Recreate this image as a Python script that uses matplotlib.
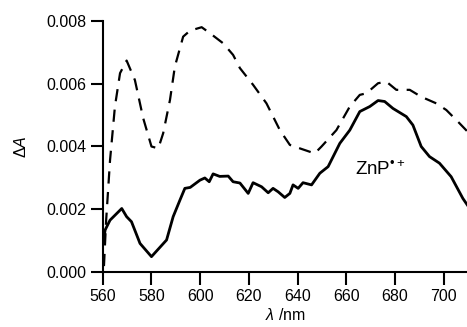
import matplotlib
matplotlib.use('Agg')
import matplotlib.pyplot as plt

plt.rcParams['font.family'] = ['Liberation Sans', 'DejaVu Sans']
plt.rcParams['mathtext.fontset'] = 'custom'
plt.rcParams['mathtext.rm'] = 'Liberation Sans'
plt.rcParams['mathtext.it'] = 'Liberation Sans:italic'

# solid trace (ZnP radical cation)
solid_x = [560, 561, 563, 567.8, 569.8, 571.8, 575.3, 580, 586.2, 588.9, 591.7,
           593.7, 595.9, 599.9, 601.9, 603.7, 605.3, 608, 611.5, 613.5, 616.3,
           619.7, 621.7, 625.2, 627.9, 629.9, 632, 634.7, 636.8, 638.1, 640.2,
           642.2, 645.7, 649.1, 652.5, 657.3, 661.4, 665.5, 669.6, 673, 675.7,
           679.1, 684.6, 687.3, 690.7, 694.1, 698.2, 703, 707.8, 710]
solid_y = [0.00087, 0.00135, 0.00166, 0.00203, 0.00177, 0.00161, 0.00092, 0.0005,
           0.00103, 0.00177, 0.0023, 0.00267, 0.0027, 0.00293, 0.003, 0.00288,
           0.00313, 0.00305, 0.00306, 0.00288, 0.00284, 0.00251, 0.00285, 0.00272,
           0.00253, 0.00267, 0.00256, 0.00238, 0.00251, 0.00278, 0.00267, 0.00285,
           0.00278, 0.00315, 0.00336, 0.0041, 0.00452, 0.00511, 0.00527, 0.00546,
           0.00543, 0.00521, 0.00495, 0.00468, 0.004, 0.00368, 0.00347, 0.00304,
           0.00235, 0.0021]

# dashed trace
dash_x = [560.5, 561.4, 563, 565, 567.1, 569.8, 573.2, 576.6, 580, 582.8, 584.8,
          587.6, 589.6, 593, 595.8, 600.6, 604, 609.4, 613.5, 616.3, 621.7, 627.2,
          632.7, 636.8, 640.9, 647, 649.8, 655.9, 661.4, 665.5, 668.2, 673, 676.4,
          680.5, 686, 690.7, 696.9, 701, 706.4, 710]
dash_y = [0.0002, 0.00166, 0.00357, 0.00527, 0.00633, 0.00673, 0.00611, 0.0049,
          0.004, 0.00394, 0.00442, 0.00548, 0.00654, 0.00749, 0.00768, 0.00779,
          0.0076, 0.00728, 0.00691, 0.00649, 0.00596, 0.00537, 0.00452, 0.00405,
          0.00394, 0.00378, 0.004, 0.00452, 0.00527, 0.00564, 0.00569, 0.00601,
          0.00606, 0.0058, 0.0058, 0.00558, 0.00537, 0.00516, 0.00474, 0.00445]

x_ticks = [560, 580, 600, 620, 640, 660, 680, 700]
y_ticks = [0.000, 0.002, 0.004, 0.006, 0.008]

fig = plt.figure(figsize=(4.67, 3.27), dpi=100)
ax = fig.add_axes([0.22, 0.167, 0.78, 0.770])

ax.plot(dash_x, dash_y, color='black', lw=1.6, dashes=[5.5, 3.8])
ax.plot(solid_x, solid_y, color='black', lw=2.0)

ax.set_xlim(560, 709.5)
ax.set_ylim(0, 0.008)
ax.set_xticks(x_ticks)
ax.set_yticks(y_ticks)
ax.set_yticklabels(['%.3f' % v for v in y_ticks])

for s in ['top', 'right']:
    ax.spines[s].set_visible(False)
for s in ['left', 'bottom']:
    ax.spines[s].set_linewidth(1.5)
ax.tick_params(direction='out', length=9, width=1.5, labelsize=11.5, pad=3)

ax.set_xlabel(r'$\mathit{\lambda}$ /nm', fontsize=11.5, labelpad=2)
ax.set_ylabel(r'$\mathit{\Delta A}$', fontsize=11.5, labelpad=12)

ax.text(663.5, 0.00325, r'ZnP$^{•+}$', fontsize=13.5, va='center')

fig.savefig('out.png', dpi=100)
